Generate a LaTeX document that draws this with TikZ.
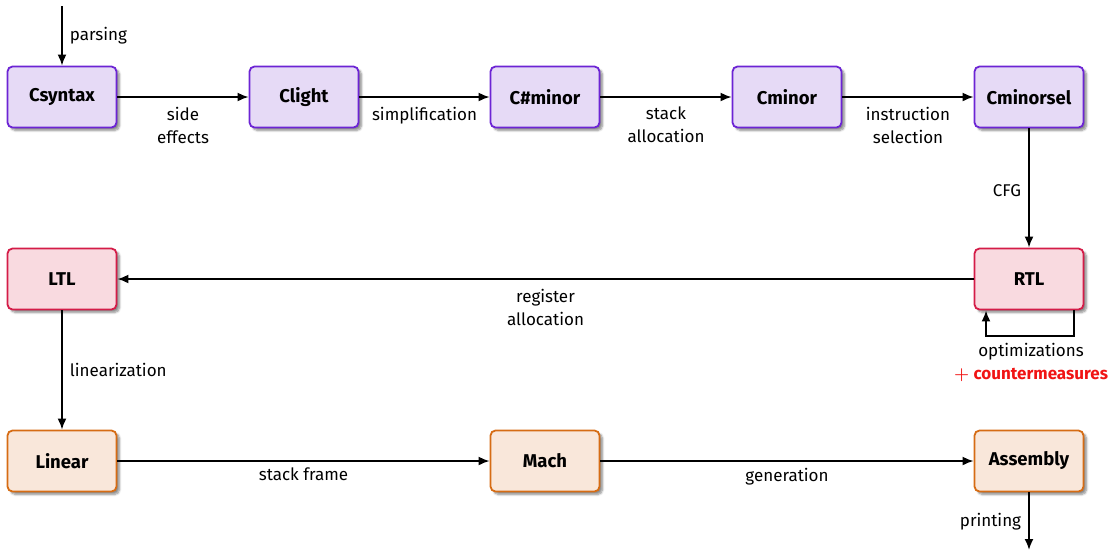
\documentclass[tikz,border=0pt]{standalone}
\usepackage{fontspec}
\setmainfont{Fira Sans}
\usetikzlibrary{arrows.meta,shadows.blur}
\definecolor{purpleline}{RGB}{108,36,212}
\definecolor{purplefill}{RGB}{230,218,246}
\definecolor{redline}{RGB}{212,28,72}
\definecolor{redfill}{RGB}{249,218,224}
\definecolor{orangeline}{RGB}{214,108,20}
\definecolor{orangefill}{RGB}{249,231,218}
\definecolor{cmred}{RGB}{240,20,20}
\begin{document}
\begin{tikzpicture}[x=1pt,y=-1pt,
  every node/.style={font=\fontsize{17}{23}\selectfont},
  stage/.style={draw, line width=1.8pt, rounded corners=5pt,
    minimum width=109pt, minimum height=61pt, inner sep=0pt,
    font=\fontsize{18.5}{23}\selectfont\bfseries,
    blur shadow={shadow xshift=3pt, shadow yshift=-3pt, shadow blur steps=6, shadow opacity=45}},
  frontend/.style={stage, draw=purpleline, fill=purplefill},
  middle/.style={stage, draw=redline, fill=redfill},
  backend/.style={stage, draw=orangeline, fill=orangefill},
  arr/.style={-{Latex[length=11pt,width=9pt]}, line width=1.9pt},
  lbl/.style={align=center, inner sep=2pt},
  under/.style={below, lbl, yshift=-7pt}]
\useasboundingbox (0,0) rectangle (1118,550);

% front-end languages
\node[frontend] (csyntax)   at (62,97)   {Csyntax};
\node[frontend] (clight)    at (304,97)  {Clight};
\node[frontend] (csharpmin) at (545,97)  {C\#minor};
\node[frontend] (cminor)    at (787,97)  {Cminor};
\node[frontend] (cminorsel) at (1029,97) {Cminorsel};

% register-transfer languages
\node[middle] (rtl) at (1029,279) {RTL};
\node[middle] (ltl) at (62,279)   {LTL};

% back-end languages
\node[backend] (linear)   at (62,461)   {Linear};
\node[backend] (mach)     at (545,461)  {Mach};
\node[backend] (assembly) at (1029,461) {Assembly};

\coordinate (src) at (62,6);
\coordinate (out) at (1029,550);

% passes
\draw[arr] (src) -- node[right, lbl, xshift=5pt] {parsing} (csyntax);
\draw[arr] (csyntax) -- node[under] {side\\effects} (clight);
\draw[arr] (clight) -- node[under] {simplification} (csharpmin);
\draw[arr] (csharpmin) -- node[under] {stack\\allocation} (cminor);
\draw[arr] (cminor) -- node[under] {instruction\\selection} (cminorsel);
\draw[arr] (cminorsel) -- node[left, lbl, xshift=-5pt, yshift=-3pt] {CFG} (rtl);
\draw[arr] (rtl) -- node[under] {register\\allocation} (ltl);
\draw[arr] (ltl) -- node[right, lbl, xshift=5pt] {linearization} (linear);
\draw[arr] (linear) -- node[under, yshift=3pt] {stack frame} (mach);
\draw[arr] (mach) -- node[under, yshift=3pt] {generation} (assembly);
\draw[arr] (assembly) -- node[left, lbl, xshift=-5pt] {printing} (out);

% optimisation loop on RTL
\coordinate (loopR) at ([xshift=45pt]rtl.south);
\coordinate (loopL) at ([xshift=-43pt]rtl.south);
\draw[arr] (loopR) -- ++(0,26) coordinate (loopB) -| (loopL);
\node[lbl, anchor=north] (opt) at (1031,341) {optimizations};
\node[lbl, anchor=north] (cm) at ([yshift=-4pt]opt.south)
  {\textcolor{cmred}{{\boldmath$+$}\ \textbf{countermeasures}}};
\end{tikzpicture}
\end{document}
